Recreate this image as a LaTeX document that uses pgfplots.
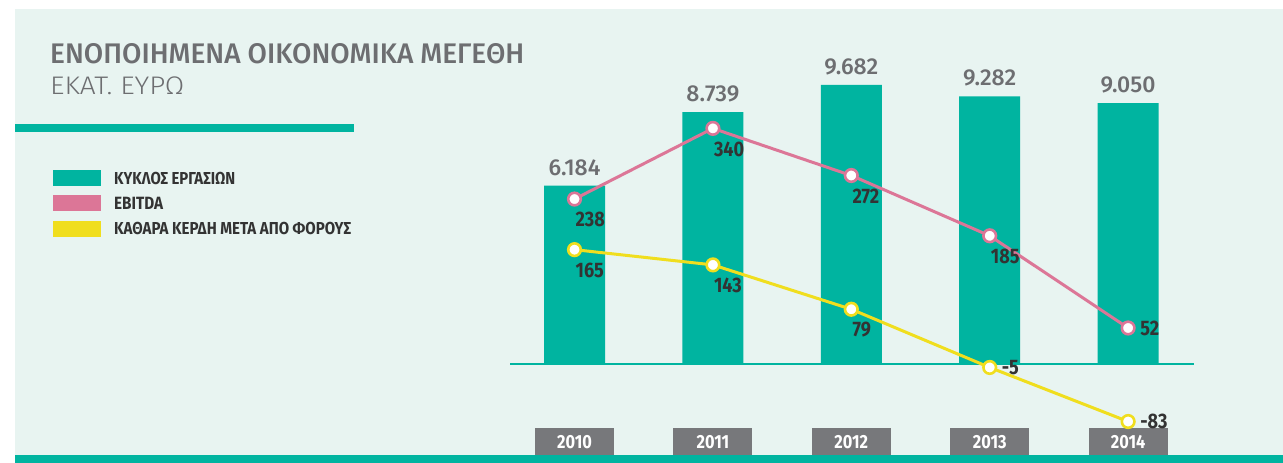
\documentclass[border=0pt]{standalone}
\usepackage{fontspec}
\setmainfont{Fira Sans}
\newfontfamily\cond[FakeStretch=0.86]{Fira Sans}
\newfontfamily\light{Fira Sans Light}
\newfontfamily\medium{Fira Sans Medium}
\usepackage{graphicx}
\usepackage{pgfplots}
\pgfplotsset{compat=1.18}
\definecolor{bg}{HTML}{E8F4F1}
\definecolor{tealc}{HTML}{00B4A0}
\definecolor{pinkc}{HTML}{DC7697}
\definecolor{yelc}{HTML}{F0DE1E}
\definecolor{boxg}{HTML}{77787B}
\definecolor{titleg}{HTML}{6D6E71}
\definecolor{labd}{HTML}{333333}
\begin{document}
\begin{tikzpicture}[x=1pt,y=1pt]
% background
\fill[white] (0,0) rectangle (1283,463);
\fill[bg] (15,0) rectangle (1283,454);
\fill[tealc] (15,0) rectangle (1283,8);
% title
\node[anchor=base west, inner sep=0pt, text=titleg] at (50,399.7)
  {\resizebox{474pt}{20pt}{\medium ΕΝΟΠΟΙΗΜΕΝΑ ΟΙΚΟΝΟΜΙΚΑ ΜΕΓΕΘΗ}};
\node[anchor=base west, inner sep=0pt, text=titleg] at (50,368)
  {\resizebox{134pt}{17.7pt}{\light ΕΚΑΤ. ΕΥΡΩ}};
\fill[tealc] (15,331) rectangle (354,339);
% legend
\fill[tealc] (53,277.3) rectangle (101,293);
\fill[pinkc] (53,252) rectangle (101,268.3);
\fill[yelc] (53,226) rectangle (101,242);
\node[anchor=base west, inner sep=0pt, text=labd] at (114,278)
  {\resizebox{!}{12.3pt}{\cond\bfseries ΚΥΚΛΟΣ ΕΡΓΑΣΙΩΝ}};
\node[anchor=base west, inner sep=0pt, text=labd] at (114,253.7)
  {\resizebox{!}{12.3pt}{\cond\bfseries EBITDA}};
\node[anchor=base west, inner sep=0pt, text=labd] at (114,228)
  {\resizebox{237pt}{12.3pt}{\cond\bfseries ΚΑΘΑΡΑ ΚΕΡΔΗ ΜΕΤΑ ΑΠΟ ΦΟΡΟΥΣ}};
% bars
\begin{axis}[at={(510pt,35pt)}, anchor=south west, scale only axis,
  width=684pt, height=408pt,
  xmin=-0.466, xmax=4.476, ymin=-2220, ymax=11932,
  axis line style={draw=none}, ytick=\empty,
  xtick={0,1,2,3,4}, xticklabels={2010,2011,2012,2013,2014},
  major tick length=0pt,
  xticklabel style={fill=boxg, text=white, font=\fontsize{19}{19}\selectfont\cond\bfseries,
    minimum width=79pt, minimum height=27pt, inner sep=0pt, anchor=north},
  clip=false]
\draw[tealc, line width=1.2pt] (axis cs:-0.466,0) -- (axis cs:4.476,0);
\addplot[ybar, bar width=61pt, fill=tealc, draw=none,
  point meta=explicit symbolic, nodes near coords,
  nodes near coords style={text=titleg, font=\fontsize{23}{23}\selectfont\medium,
    inner sep=0pt, anchor=south, yshift=10pt}]
  coordinates {(0,6184)[6.184] (1,8739)[8.739] (2,9682)[9.682] (3,9282)[9.282] (4,9050)[9.050]};
\end{axis}
% lines
\begin{axis}[at={(510pt,35pt)}, anchor=south west, scale only axis,
  width=684pt, height=408pt,
  xmin=-0.466, xmax=4.476, ymin=-92.35, ymax=496.4,
  hide axis, clip=false]
\addplot[pinkc, line width=3pt, mark=*, mark size=6.3pt,
  mark options={fill=white, draw=pinkc, line width=2.6pt}]
  coordinates {(0,238) (1,340) (2,272) (3,185) (4,52)};
\addplot[yelc, line width=3pt, mark=*, mark size=6.3pt,
  mark options={fill=white, draw=yelc, line width=2.6pt}]
  coordinates {(0,165) (1,143) (2,79) (3,-5) (4,-83)};
\addplot[draw=none, point meta=explicit symbolic, nodes near coords,
  nodes near coords style={anchor=north west, inner sep=0pt, yshift=-13pt, xshift=1pt,
    text=labd, font=\fontsize{21}{21}\selectfont\cond\bfseries}]
  coordinates {(0,238)[238] (1,340)[340] (2,272)[272] (3,185)[185]
    (0,165)[165] (1,143)[143] (2,79)[79]};
\addplot[draw=none, point meta=explicit symbolic, nodes near coords,
  nodes near coords style={anchor=west, inner sep=0pt, xshift=12pt,
    text=labd, font=\fontsize{21}{21}\selectfont\cond\bfseries}]
  coordinates {(4,52)[52] (3,-5)[-5] (4,-83)[-83]};
\end{axis}
\end{tikzpicture}
\end{document}
